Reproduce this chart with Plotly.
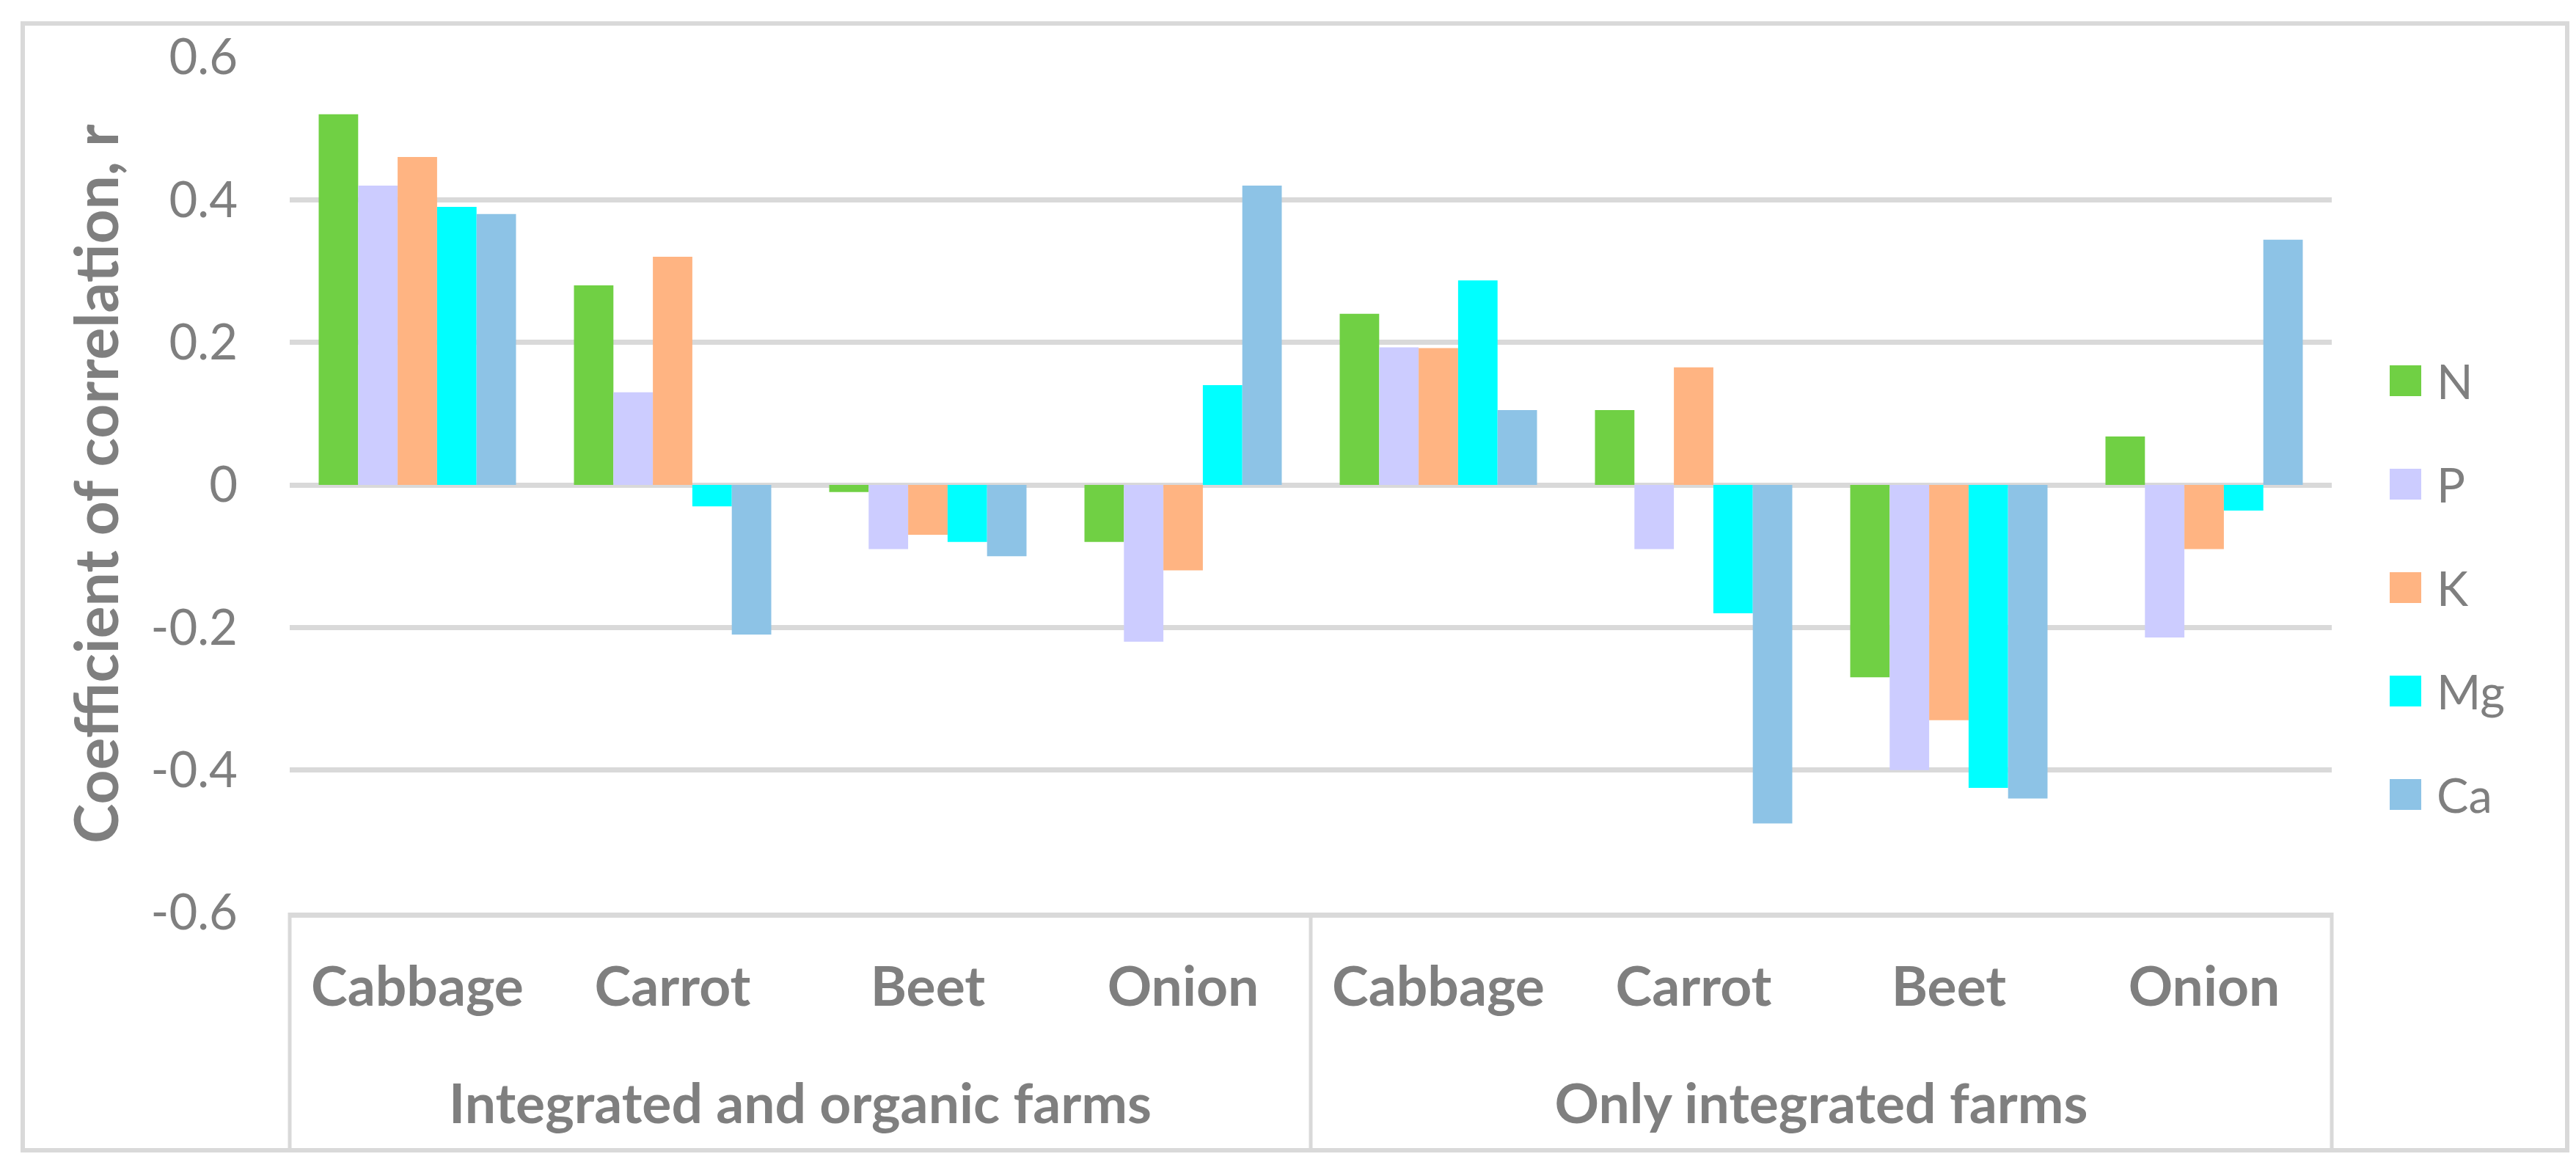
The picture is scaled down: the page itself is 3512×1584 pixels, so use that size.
import plotly.graph_objects as go

# categories
farm_groups = ['Integrated and organic farms'] * 4 + ['Only integrated farms'] * 4
crops = ['Cabbage', 'Carrot', 'Beet', 'Onion'] * 2

nutrients = ['N', 'P', 'K', 'Mg', 'Ca']
colors = ['#70D044', '#CCCCFF', '#FFB482', '#00FFFF', '#8DC3E6']

# coefficient of correlation r
r_N = [0.52, 0.28, -0.01, -0.08, 0.24, 0.105, -0.27, 0.068]
r_P = [0.42, 0.13, -0.09, -0.22, 0.193, -0.09, -0.40, -0.214]
r_K = [0.46, 0.32, -0.07, -0.12, 0.192, 0.165, -0.33, -0.09]
r_Mg = [0.39, -0.03, -0.08, 0.14, 0.287, -0.18, -0.425, -0.036]
r_Ca = [0.38, -0.21, -0.10, 0.42, 0.105, -0.475, -0.44, 0.344]
series = [r_N, r_P, r_K, r_Mg, r_Ca]

y_ticks = [0.6, 0.4, 0.2, 0, -0.2, -0.4, -0.6]
y_ticktext = ['0.6', '0.4', '0.2', '0', '-0.2', '-0.4', '-0.6']

W, H = 3512, 1584
L, R, T, B = 387, 3171, 70, 1236
grey = '#7F7F7F'
line_grey = '#D9D9D9'


def px(x):
    return (x - L) / (R - L)


def py(y):
    return (B - y) / (B - T)


# leading blank line drops the group row lower, as in the Excel layout
group_labels = ['<br>' + g for g in farm_groups]

fig = go.Figure()
for name, vals, col in zip(nutrients, series, colors):
    fig.add_trace(go.Bar(x=[group_labels, crops], y=vals, name=name,
                         marker=dict(color=col, line=dict(width=0)),
                         showlegend=False))

fig.update_layout(
    width=W, height=H,
    margin=dict(l=L, r=W - R, t=T, b=H - B),
    paper_bgcolor='white', plot_bgcolor='white',
    barmode='group', bargap=0.227, bargroupgap=0,
    font=dict(family='Lato, Calibri, sans-serif', color=grey),
)
fig.update_yaxes(range=[-0.6, 0.6], tickvals=y_ticks, ticktext=y_ticktext,
                 tickfont=dict(size=67, color=grey), ticklabelstandoff=70,
                 showgrid=True, gridcolor=line_grey, gridwidth=7,
                 zeroline=True, zerolinecolor=line_grey, zerolinewidth=7,
                 showline=False, ticks='')
fig.update_xaxes(tickfont=dict(size=75, color=grey, weight='bold'),
                 showline=True, linecolor=line_grey, linewidth=7,
                 showdividers=False, ticklabelstandoff=30,
                 ticks='outside', ticklen=28, tickcolor='rgba(0,0,0,0)')

# category area frame: left edge, group separator, right edge
for xp in [L, (L + R) / 2, R]:
    fig.add_shape(type='line', xref='paper', yref='paper',
                  x0=px(xp), x1=px(xp), y0=py(B), y1=py(1560),
                  line=dict(color=line_grey, width=5))

# y axis title
fig.add_annotation(text='<b>Coefficient of correlation, r</b>', textangle=-90,
                   xref='paper', yref='paper', x=px(121), y=py(652),
                   xanchor='center', yanchor='middle',
                   showarrow=False, font=dict(size=82, color=grey))

# legend, built from the series names and colours
for i, (name, col) in enumerate(zip(nutrients, colors)):
    yc = 511 + i * 141
    fig.add_shape(type='rect', xref='paper', yref='paper',
                  x0=px(3250), x1=px(3293), y0=py(yc + 21), y1=py(yc - 21),
                  fillcolor=col, line=dict(width=0))
    fig.add_annotation(text=name, xref='paper', yref='paper', x=px(3312), y=py(yc),
                       xanchor='left', yanchor='middle', showarrow=False,
                       font=dict(size=65, color=grey))

# chart border
fig.add_shape(type='rect', xref='paper', yref='paper',
              x0=px(23), x1=px(3492), y0=py(1560), y1=py(24),
              line=dict(color=line_grey, width=6), layer='below')

fig.write_html('out.html')
